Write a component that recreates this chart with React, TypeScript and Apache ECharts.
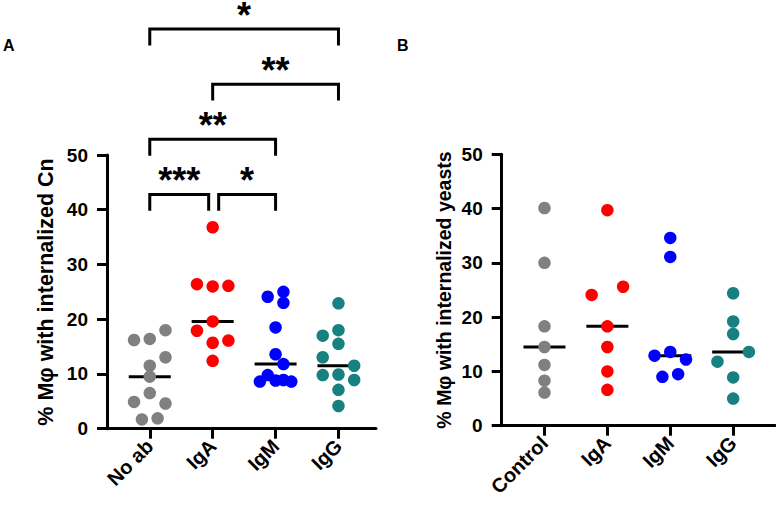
import React, { useEffect, useRef } from "react";
import * as echarts from "echarts";

const FONT = "Liberation Sans, Arial, Helvetica, sans-serif";

// Panel A: % macrophages with internalized Cn
const groupsA = ["No ab", "IgA", "IgM", "IgG"];
const noAbA = [16.2, 16.4, 18.0, 13.05, 11.5, 9.5, 6.5, 4.9, 4.6, 1.7, 1.9];
const igaA = [36.8, 26.4, 26.0, 26.1, 19.6, 17.9, 15.7, 16.1, 12.4];
const igmA = [24.1, 25.0, 23.0, 18.5, 13.6, 11.8, 9.8, 8.6, 8.8, 8.9, 8.6];
const iggA = [22.9, 17.0, 18.0, 15.5, 13.05, 11.5, 9.8, 9.9, 8.9, 7.1, 4.15];

// horizontal spread of overlapping dots, in half-dot steps
const noAbJitterA = [-2, 0, 2, 2, 0, 0, 0, -2, 2, -1, 1];
const igaJitterA = [0, -2, 0, 2, 0, -2, 0, 2, 0];
const igmJitterA = [-1, 1, 1, 0, 0, 1, -1, -2, 0, 1, 2];
const iggJitterA = [0, -2, 0, 0, -2, 2, -2, 0, 2, 0, 0];

// Panel B: % macrophages with internalized yeasts
const groupsB = ["Control", "IgA", "IgM", "IgG"];
const controlB = [40.1, 30.0, 18.3, 14.5, 11.2, 8.3, 6.1];
const igaB = [39.7, 25.6, 24.1, 18.3, 14.5, 10.0, 6.6];
const igmB = [34.6, 31.1, 13.6, 12.9, 12.2, 9.0, 9.5];
const iggB = [24.4, 19.2, 16.9, 13.6, 11.8, 8.9, 5.0];

const controlJitterB = [0, 0, 0, 0, 0, 0, 0];
const igaJitterB = [0, 2, -2, 0, 0, 0, 0];
const igmJitterB = [0, 0, 0, -2, 2, -1, 1];
const iggJitterB = [0, 0, 0, 2, -2, 0, 0];

// Significance brackets for panel A (row 0 is the lowest)
const comparisonsA = [
  { from: 0, to: 1, row: 0, label: "***" },
  { from: 1, to: 2, row: 0, label: "*" },
  { from: 0, to: 2, row: 1, label: "**" },
  { from: 1, to: 3, row: 2, label: "**" },
  { from: 0, to: 3, row: 3, label: "*" },
];

const yTicks = [0, 10, 20, 30, 40, 50];

const COLORS = ["#808080", "#ff0000", "#0000ff", "#178080"];
const JITTER_STEP = 0.125;
const X_MIN = -0.68;
const PX_PER_CAT = 62.9;
const DOT = 12.5;
const MEDIAN_HALF = 0.334;
const BRACKET_BASE = 42.8;
const BRACKET_STEP = 10.07;
const BRACKET_LEG = 3;

function median(a: number[]): number {
  const s = [...a].sort((x, y) => x - y);
  const n = s.length;
  return n % 2 ? s[(n - 1) / 2] : (s[n / 2 - 1] + s[n / 2]) / 2;
}

const panelA = {
  groups: groupsA,
  values: [noAbA, igaA, igmA, iggA],
  jitter: [noAbJitterA, igaJitterA, igmJitterA, iggJitterA],
  title: "% Mφ with internalized Cn",
  grid: { left: 107, top: 155, width: 269, height: 273.7 },
  titlePos: [46, 292],
  titleSize: 21.5,
};
const panelB = {
  groups: groupsB,
  values: [controlB, igaB, igmB, iggB],
  jitter: [controlJitterB, igaJitterB, igmJitterB, iggJitterB],
  title: "% Mφ with internalized yeasts",
  grid: { left: 501.7, top: 154.3, width: 273.3, height: 271.4 },
  titlePos: [444, 290],
  titleSize: 19.5,
};

const axisLineStyle = { color: "#000", width: 3 };

function buildOption() {
  const panels = [panelA, panelB];
  const grid = panels.map((p) => ({ ...p.grid, containLabel: false }));
  const xAxis = panels.map((p, k) => ({
    gridIndex: k,
    type: "value",
    min: X_MIN,
    max: X_MIN + p.grid.width / PX_PER_CAT,
    axisLine: { show: true, onZero: false, lineStyle: axisLineStyle },
    axisTick: {
      show: true,
      customValues: [0, 1, 2, 3],
      length: 10,
      lineStyle: axisLineStyle,
    },
    axisLabel: {
      show: true,
      customValues: [0, 1, 2, 3],
      formatter: (v: number) => p.groups[Math.round(v)] ?? "",
      rotate: 45,
      margin: 14,
      fontSize: 20,
      fontWeight: "bold",
      fontFamily: FONT,
      color: "#000",
    },
    splitLine: { show: false },
  }));
  const yAxis = panels.map((p, k) => ({
    gridIndex: k,
    type: "value",
    min: yTicks[0],
    max: yTicks[yTicks.length - 1],
    interval: yTicks[1] - yTicks[0],
    axisLine: { show: true, onZero: false, lineStyle: axisLineStyle },
    axisTick: { show: true, length: 10, lineStyle: axisLineStyle },
    axisLabel: {
      margin: 19,
      fontSize: 19,
      fontWeight: "bold",
      fontFamily: FONT,
      color: "#000",
    },
    splitLine: { show: false },
  }));

  const series: any[] = [];
  panels.forEach((p, k) => {
    p.values.forEach((vals, i) => {
      series.push({
        type: "scatter",
        xAxisIndex: k,
        yAxisIndex: k,
        symbol: "circle",
        symbolSize: DOT,
        z: 3,
        itemStyle: { color: COLORS[i], opacity: 1 },
        data: vals.map((v, j) => [i + p.jitter[i][j] * JITTER_STEP, v]),
      });
    });
    series.push({
      type: "custom",
      xAxisIndex: k,
      yAxisIndex: k,
      z: 2,
      clip: false,
      data: p.values.map((vals, i) => [i, median(vals)]),
      renderItem: (_params: any, api: any) => {
        const i = api.value(0);
        const m = api.value(1);
        const a = api.coord([i - MEDIAN_HALF, m]);
        const b = api.coord([i + MEDIAN_HALF, m]);
        return {
          type: "line",
          shape: { x1: a[0], y1: a[1], x2: b[0], y2: b[1] },
          style: { stroke: "#000", lineWidth: 3 },
        };
      },
    });
  });

  // brackets with asterisks above panel A
  series.push({
    type: "custom",
    xAxisIndex: 0,
    yAxisIndex: 0,
    z: 4,
    clip: false,
    data: comparisonsA.map((c, k) => [c.from, c.to, c.row, k]),
    encode: { x: 0, y: 1 },
    renderItem: (_params: any, api: any) => {
      const c = comparisonsA[api.value(3)];
      const level = BRACKET_BASE + c.row * BRACKET_STEP;
      const shareLeft = comparisonsA.some((o) => o !== c && o.row === c.row && o.to === c.from);
      const shareRight = comparisonsA.some((o) => o !== c && o.row === c.row && o.from === c.to);
      const top = api.coord([c.from, level]);
      const bottom = api.coord([c.to, level - BRACKET_LEG]);
      const x1 = top[0] + (shareLeft ? 6 : 0);
      const x2 = bottom[0] - (shareRight ? 4 : 0);
      const yTop = top[1];
      const yLeg = bottom[1];
      return {
        type: "group",
        children: [
          {
            type: "polyline",
            shape: {
              points: [
                [x1, yLeg],
                [x1, yTop],
                [x2, yTop],
                [x2, yLeg],
              ],
            },
            style: { stroke: "#000", lineWidth: 3, fill: null, lineJoin: "miter" },
          },
          {
            type: "text",
            style: {
              text: c.label,
              x: (x1 + x2) / 2,
              y: yTop - 14,
              align: "center",
              verticalAlign: "middle",
              fontSize: 36,
              fontWeight: "bold",
              fontFamily: FONT,
              fill: "#000",
            },
          },
        ],
      };
    },
  });

  // rotated y-axis titles
  const titles = panels.map((p) => ({
    type: "text",
    x: p.titlePos[0],
    y: p.titlePos[1],
    rotation: Math.PI / 2,
    style: {
      text: p.title,
      align: "center",
      verticalAlign: "middle",
      fontSize: p.titleSize,
      fontWeight: "bold",
      fontFamily: FONT,
      fill: "#000",
    },
  }));

  return {
    animation: false,
    backgroundColor: "#fff",
    grid,
    xAxis,
    yAxis,
    series,
    graphic: [
      ...titles,
      {
        type: "text",
        left: 3,
        top: 37,
        style: { text: "A", fontSize: 16, fontWeight: "bold", fontFamily: FONT, fill: "#000" },
      },
      {
        type: "text",
        left: 397,
        top: 37,
        style: { text: "B", fontSize: 16, fontWeight: "bold", fontFamily: FONT, fill: "#000" },
      },
    ],
  };
}

export default function App() {
  const ref = useRef<HTMLDivElement>(null);
  useEffect(() => {
    if (!ref.current) return;
    const chart = echarts.init(ref.current, undefined, { renderer: "svg" });
    chart.setOption(buildOption() as any);
    return () => chart.dispose();
  }, []);
  return (
    <div
      ref={ref}
      style={{ position: "absolute", left: 0, top: 0, width: 776, height: 508, background: "#fff" }}
    />
  );
}
